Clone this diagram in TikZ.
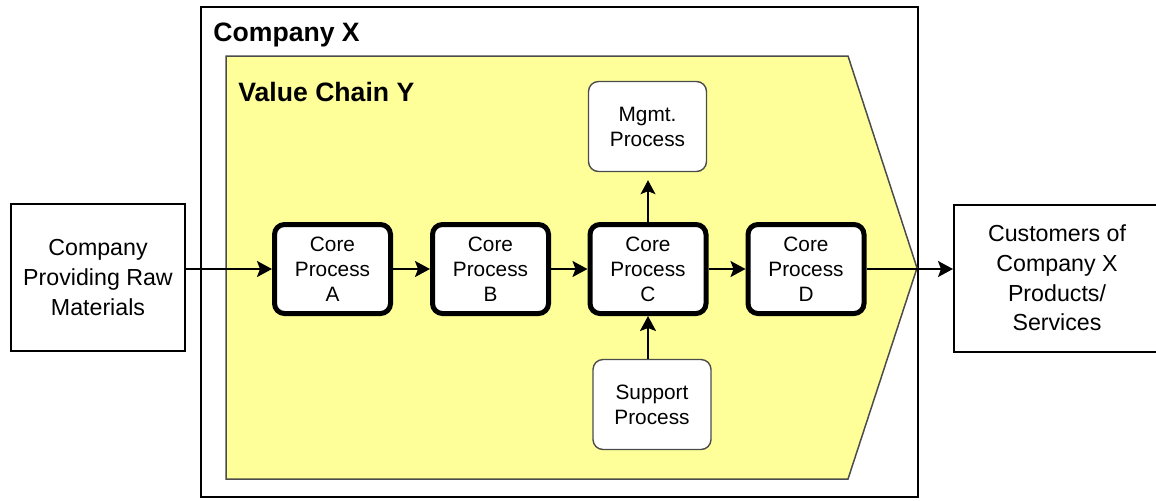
\documentclass[tikz,border=0pt]{standalone}
\usepackage{fontspec}
\setmainfont{Liberation Sans}
\usetikzlibrary{arrows.meta}
\definecolor{chainyellow}{RGB}{255,255,153}
\begin{document}
\begin{tikzpicture}[x=0.5pt,y=-0.5pt,
  corebox/.style={draw, line width=2.5pt, rounded corners=5pt, fill=white,
    minimum width=58pt, minimum height=44.5pt, inner sep=0pt, align=center,
    font=\fontsize{10.4}{12.5}\selectfont},
  auxbox/.style={draw=black!70, line width=0.7pt, rounded corners=5pt, fill=white,
    minimum width=59pt, minimum height=45pt, inner sep=0pt, align=center,
    font=\fontsize{10.4}{12.5}\selectfont},
  extbox/.style={draw, line width=1pt, fill=white, inner sep=0pt, align=center,
    font=\fontsize{11.6}{14.8}\selectfont},
  titletext/.style={anchor=base west, inner sep=0pt, font=\bfseries\fontsize{13.3}{16}\selectfont},
  flow/.style={line width=1pt, -{Stealth[length=7.5pt,width=8pt,inset=1.5pt]}},
  thinflow/.style={line width=0.6pt, -{Stealth[length=7pt,width=7.5pt,inset=1.5pt]}}
]
\useasboundingbox (0,0) rectangle (1156,500);
% Company X frame
\draw[line width=1pt] (201,7) rectangle (918,497);
\node[titletext] (cx) at (213,41) {Company X};
% Value chain chevron
\draw[fill=chainyellow, draw=black!70, line width=0.75pt]
  (226,56) -- (848,56) -- (917,268) -- (848,479) -- (226,479) -- cycle;
\coordinate (tip) at (917,268);
\node[titletext] (vc) at (238,101) {Value Chain Y};
% core processes
\node[corebox] (A) at (332.5,269) {Core\\Process\\A};
\node[corebox] (B) at (490.5,269) {Core\\Process\\B};
\node[corebox] (C) at (648,269) {Core\\Process\\C};
\node[corebox] (D) at (806,269) {Core\\Process\\D};
% management and support
\node[auxbox] (M) at (647.5,126.5) {Mgmt.\\Process};
\node[auxbox] (S) at (652,404.5) {Support\\Process};
% external boxes
\node[extbox, minimum width=87pt, minimum height=73.5pt] (raw) at (98,277.5)
  {Company\\Providing Raw\\Materials};
\node[extbox, minimum width=103pt, minimum height=73.5pt] (cust) at (1057,278)
  {Customers of\\Company X\\Products/\\Services};
% connectors
\draw[flow] (raw.east |- A.west) -- (A.west);
\draw[flow] (A) -- (B);
\draw[flow] (B) -- (C);
\draw[flow] (C) -- (D);
\draw[flow] (D.east) -- (cust.west |- D.east);
\draw[thinflow, shorten >=4pt] (C.north) -- (M.south -| C.north);
\draw[flow] (S.north -| C.south) -- (C.south);
\end{tikzpicture}
\end{document}
